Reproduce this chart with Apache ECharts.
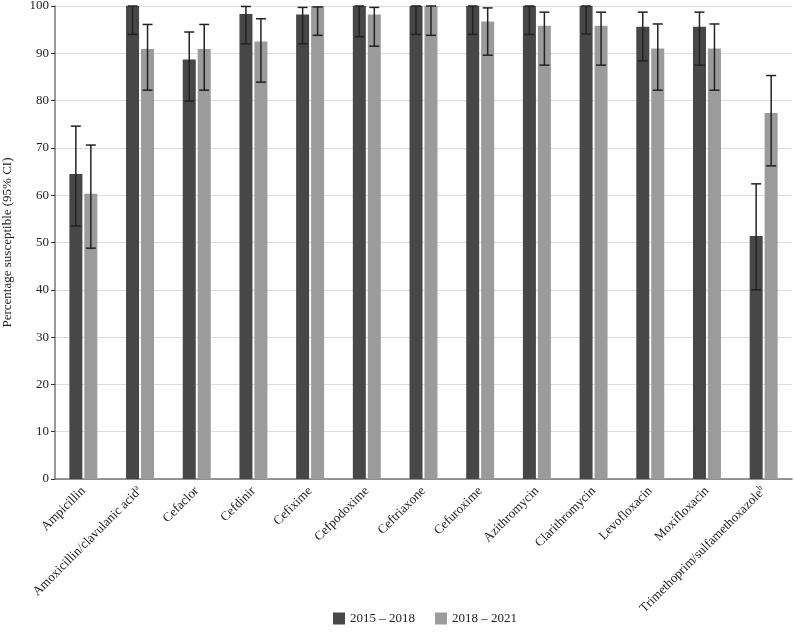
<!DOCTYPE html>
<html>
<head>
<meta charset="utf-8">
<script src="https://cdn.jsdelivr.net/npm/echarts@6/dist/echarts.min.js"></script>
<style>
html, body { margin: 0; padding: 0; background: #fff; }
#main { width: 794px; height: 632px; }
</style>
</head>
<body>
<div id="main"></div>
<script>
// categories and values
var categories = ['Ampicillin', 'Amoxicillin/clavulanic acid{sup|a}', 'Cefaclor', 'Cefdinir', 'Cefixime',
    'Cefpodoxime', 'Ceftriaxone', 'Cefuroxime', 'Azithromycin', 'Clarithromycin',
    'Levofloxacin', 'Moxifloxacin', 'Trimethoprim/sulfamethoxazole{sup|b}'];

var period1 = [64.5, 100, 88.7, 98.3, 98.2, 100, 100, 100, 100, 100, 95.6, 95.6, 51.4];
var low1    = [53.5, 94.0, 79.9, 92.0, 92.0, 93.5, 94.0, 94.0, 94.0, 94.1, 88.4, 87.5, 40.0];
var high1   = [74.6, 100, 94.5, 99.9, 99.7, 100, 100, 100, 100, 100, 98.7, 98.7, 62.4];

var period2 = [60.3, 90.9, 90.9, 92.5, 100, 98.2, 100, 96.7, 95.8, 95.8, 91.0, 91.0, 77.4];
var low2    = [48.8, 82.2, 82.2, 83.9, 93.8, 91.5, 93.8, 89.6, 87.5, 87.5, 82.2, 82.2, 66.2];
var high2   = [70.6, 96.1, 96.1, 97.3, 99.8, 99.7, 100, 99.6, 98.7, 98.7, 96.2, 96.2, 85.3];

var seriesNames = ['2015 – 2018', '2018 – 2021'];

var serif = '"Liberation Serif", "DejaVu Serif", serif';

var myChart = echarts.init(document.getElementById('main'));

function errData(lo, hi) {
    var res = [];
    for (var i = 0; i < lo.length; i++) {
        res.push([i, lo[i], hi[i]]);
    }
    return res;
}

// draws a whisker with caps, shifted onto its bar
function errRender(offset) {
    return function (params, api) {
        var x = api.value(0);
        var lo = api.coord([x, api.value(1)]);
        var hi = api.coord([x, api.value(2)]);
        var cx = lo[0] + offset;
        var hw = 5;
        var st = { stroke: '#222', lineWidth: 1.5 };
        return {
            type: 'group',
            children: [
                { type: 'line', shape: { x1: cx, y1: hi[1], x2: cx, y2: lo[1] }, style: st },
                { type: 'line', shape: { x1: cx - hw, y1: hi[1], x2: cx + hw, y2: hi[1] }, style: st },
                { type: 'line', shape: { x1: cx - hw, y1: lo[1], x2: cx + hw, y2: lo[1] }, style: st }
            ]
        };
    };
}

var option = {
    backgroundColor: '#fff',
    animation: false,
    grid: { left: 55, right: 2, top: 6, bottom: 153, outerBoundsMode: 'none', containLabel: false },
    legend: {
        bottom: 2,
        left: 328,
        itemWidth: 12,
        itemHeight: 12,
        itemGap: 20,
        icon: 'rect',
        data: seriesNames,
        textStyle: { fontFamily: serif, fontSize: 13, color: '#222' }
    },
    xAxis: {
        type: 'category',
        data: categories,
        axisLine: { lineStyle: { color: '#777', width: 1.5 } },
        axisTick: { alignWithLabel: true, length: 5, lineStyle: { color: '#333' } },
        axisLabel: {
            rotate: 45,
            interval: 0,
            margin: 10,
            fontFamily: serif,
            fontSize: 13,
            color: '#222',
            rich: {
                sup: { fontFamily: serif, fontSize: 8, color: '#222', padding: [0, 0, 7, 0] }
            }
        }
    },
    yAxis: {
        type: 'value',
        min: 0,
        max: 100,
        interval: 10,
        name: 'Percentage susceptible (95% CI)',
        nameLocation: 'middle',
        nameGap: 41,
        nameTextStyle: { fontFamily: serif, fontSize: 13, color: '#222' },
        axisLine: { show: true, lineStyle: { color: '#777', width: 1.5 } },
        axisTick: { show: true, length: 4, lineStyle: { color: '#333' } },
        axisLabel: { fontFamily: serif, fontSize: 13, color: '#222', margin: 6 },
        splitLine: { lineStyle: { color: '#ddd', width: 1 } }
    },
    series: [
        {
            name: seriesNames[0],
            type: 'bar',
            data: period1,
            barWidth: 13,
            barGap: '15%',
            itemStyle: { color: '#474747' }
        },
        {
            name: seriesNames[1],
            type: 'bar',
            data: period2,
            barWidth: 13,
            barGap: '15%',
            itemStyle: { color: '#9b9b9b' }
        },
        {
            type: 'custom',
            renderItem: errRender(-7.5),
            data: errData(low1, high1),
            z: 5
        },
        {
            type: 'custom',
            renderItem: errRender(7.5),
            data: errData(low2, high2),
            z: 5
        }
    ]
};

myChart.setOption(option);
</script>
</body>
</html>
